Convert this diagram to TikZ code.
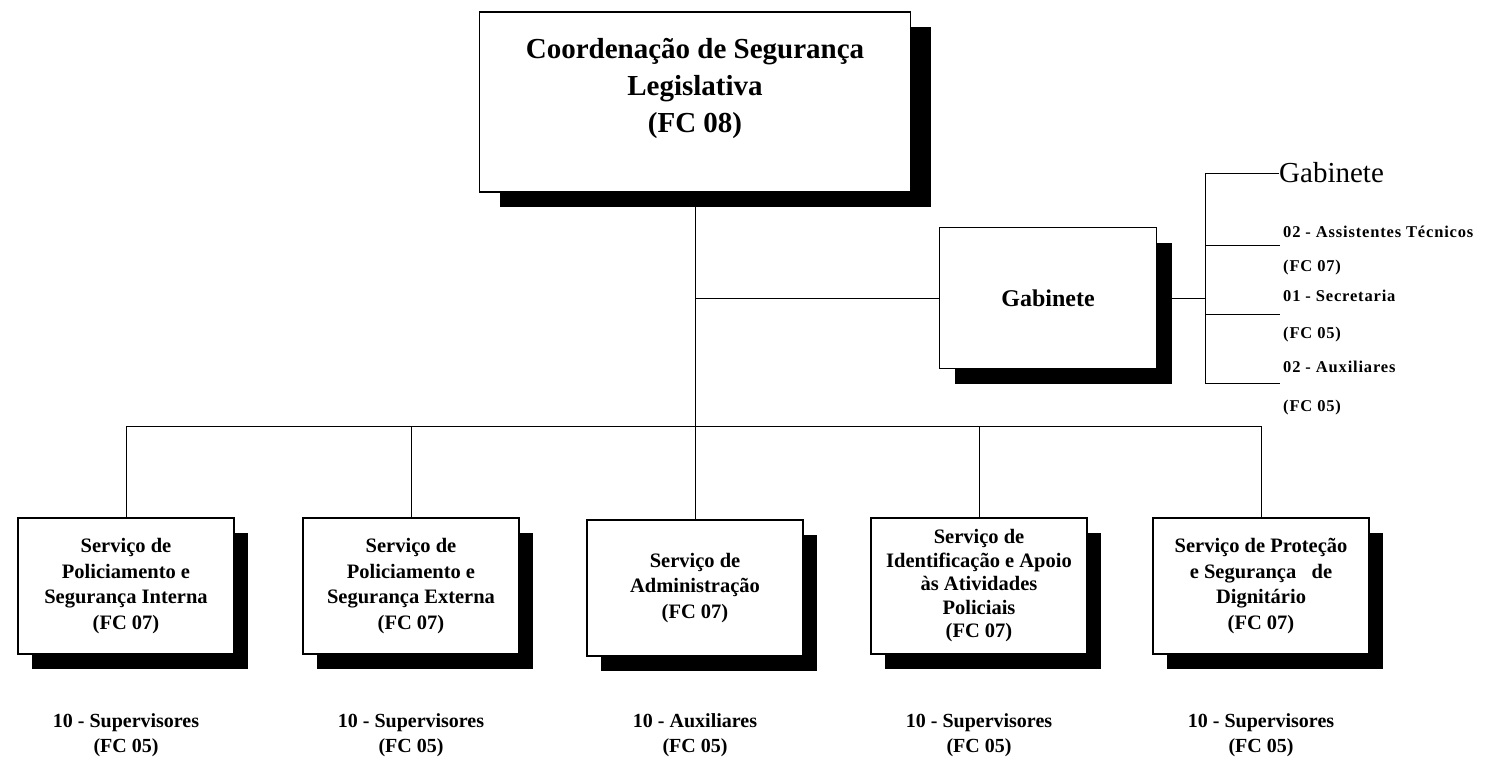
\documentclass[tikz,border=0pt]{standalone}
\usepackage{fontspec}
\setmainfont{Liberation Serif}
\newfontfamily\spacedfont[LetterSpace=5]{Liberation Serif}
\usetikzlibrary{positioning,shadows}
\tikzset{
  link/.style={line width=1pt},
  blackshadow/.style={drop shadow={shadow xshift=#1,shadow yshift=-15pt,fill=black,opacity=1}},
  mainbox/.style={draw,line width=1.2pt,fill=white,minimum width=431pt,minimum height=180pt,blackshadow=20pt},
  maintitle/.style={align=center,font=\bfseries\fontsize{29}{37}\selectfont},
  gabbox/.style={draw,line width=1.2pt,fill=white,minimum width=217pt,minimum height=141pt,
    font=\bfseries\fontsize{24}{28}\selectfont,blackshadow=15pt},
  unitbox/.style={draw,line width=1.2pt,fill=white,minimum width=216pt,minimum height=136pt,align=center,
    inner sep=2pt,font=\bfseries\fontsize{20.5}{25.5}\selectfont,blackshadow=14pt},
  staff/.style={align=center,font=\bfseries\fontsize{20}{25}\selectfont},
  gabitem/.style={anchor=west,inner sep=0pt,font=\spacedfont\bfseries\fontsize{16.5}{18}\selectfont}
}
\begin{document}
\begin{tikzpicture}[x=1pt,y=-1pt]
\useasboundingbox (0,0) rectangle (1490,760);
% boxes
\node[mainbox] (coord) at (695,102) {};
\node[maintitle] (coordtxt) at ([yshift=14pt]coord.center) {Coordenação de Segurança\\Legislativa\\(FC 08)};
\node[gabbox] (gab) at (1048,298) {Gabinete};
\node[unitbox] (spi) at (126,586) {Serviço de\\Policiamento e\\Segurança Interna\\(FC 07)};
\node[unitbox] (spe) at (411,586) {Serviço de\\Policiamento e\\Segurança Externa\\(FC 07)};
\node[unitbox] (sadm) at (695,588) {Serviço de\\Administração\\(FC 07)};
\node[unitbox,font=\bfseries\fontsize{20.5}{23.5}\selectfont] (siap) at (979,586) {Serviço de\\Identificação e Apoio\\às Atividades\\Policiais\\(FC 07)};
\node[unitbox] (spsd) at (1261,586) {Serviço de Proteção\\e Segurança~~~de\\Dignitário\\(FC 07)};
% staff below the units
\node[staff,below=55pt of spi] (spistaff) {10 - Supervisores\\(FC 05)};
\node[staff,below=55pt of spe] (spestaff) {10 - Supervisores\\(FC 05)};
\node[staff,below=53pt of sadm] (sadmstaff) {10 - Auxiliares\\(FC 05)};
\node[staff,below=55pt of siap] (siapstaff) {10 - Supervisores\\(FC 05)};
\node[staff,below=55pt of spsd] (spsdstaff) {10 - Supervisores\\(FC 05)};
% lines
\coordinate (bus) at (695,426);
\draw[link] (coord.south) -- (bus);
\draw[link] (coord.south |- gab.west) -- (gab.west);
\draw[link] (spi.north |- bus) -- (spsd.north |- bus);
\foreach \n in {spi,spe,sadm,siap,spsd}
  \draw[link] (\n.north |- bus) -- (\n.north);
% gabinete staff
\node[anchor=west,inner sep=0pt,font=\fontsize{29}{32}\selectfont] (gabhead) at (1279,173) {Gabinete};
\node[gabitem] (ast) at (1283,232) {02 - Assistentes Técnicos};
\node[gabitem] (astfc) at (1283,268) {(FC 07)};
\node[gabitem] (sec) at (1283,296) {01 - Secretaria};
\node[gabitem] (secfc) at (1283,335) {(FC 05)};
\node[gabitem] (aux) at (1283,367) {02 - Auxiliares};
\node[gabitem] (auxfc) at (1283,408) {(FC 05)};
\coordinate (brk) at (1205,298);
\coordinate (tka) at (1280,245);
\coordinate (tkb) at (1280,314);
\coordinate (tkc) at (1280,383);
\draw[link] (gab.east) -- (brk);
\draw[link] (gabhead.west) -- (gabhead.west -| brk) -- (tkc -| brk) -- (tkc);
\draw[link] (tka -| brk) -- (tka);
\draw[link] (tkb -| brk) -- (tkb);
\end{tikzpicture}
\end{document}
